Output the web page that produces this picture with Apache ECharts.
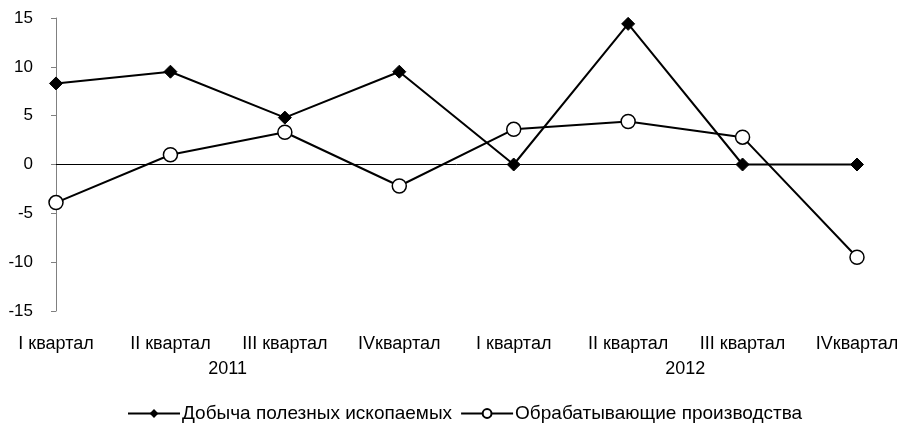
<!DOCTYPE html>
<html>
<head>
<meta charset="utf-8">
<script src="https://cdn.jsdelivr.net/npm/echarts@6/dist/echarts.min.js"></script>
<style>
html,body{margin:0;padding:0;background:#fff;}
#chart{width:902px;height:428px;}
</style>
</head>
<body>
<div id="chart"></div>
<script>
const categories = ['I квартал','II квартал','III квартал','IVквартал','I квартал','II квартал','III квартал','IVквартал'];
const years = ['2011','2012'];
const quartersPerYear = 4;
const mining = [8.3, 9.5, 4.8, 9.5, 0, 14.4, 0, 0];
const manufacturing = [-3.9, 1.0, 3.3, -2.2, 3.6, 4.4, 2.8, -9.5];
const seriesNames = ['Добыча полезных ископаемых','Обрабатывающие производства'];
const yTicks = {min: -15, max: 15, interval: 5};

// half-step slots so each year label sits at the centre of its quarters
const yearSlots = [];
for (let i = 0; i < categories.length * 2 - 1; i++) yearSlots.push('');
years.forEach((y, k) => { yearSlots[k * quartersPerYear * 2 + (quartersPerYear - 1)] = y; });

const FONT = 'Liberation Sans, Arial, sans-serif';
const chart = echarts.init(document.getElementById('chart'));
chart.setOption({
  animation: false,
  backgroundColor: '#fff',
  textStyle: {fontFamily: FONT},
  grid: {left: 56, right: 45, top: 18, bottom: 117, containLabel: false},
  xAxis: [
    {
      type: 'category', data: categories, boundaryGap: false,
      axisLine: {show: false, onZero: false}, axisTick: {show: false},
      axisLabel: {color: '#000', fontSize: 18, fontFamily: FONT, margin: 24, interval: 0}
    },
    {
      type: 'category', data: yearSlots, boundaryGap: false, position: 'bottom', offset: 41,
      axisLine: {show: false, onZero: false}, axisTick: {show: false},
      axisLabel: {color: '#000', fontSize: 18, fontFamily: FONT, margin: 8, interval: 0}
    }
  ],
  yAxis: {
    type: 'value', min: yTicks.min, max: yTicks.max, interval: yTicks.interval,
    axisLine: {show: true, lineStyle: {color: '#808080', width: 1}},
    axisTick: {show: true, length: 5, lineStyle: {color: '#808080'}},
    splitLine: {show: false},
    axisLabel: {color: '#000', fontSize: 17, fontFamily: FONT, margin: 23}
  },
  legend: {
    bottom: 0, left: 122, itemWidth: 52, itemHeight: 11, itemGap: 8,
    textStyle: {color: '#000', fontSize: 19, fontFamily: FONT, padding: [0, 0, 0, -3]},
    data: seriesNames
  },
  series: [
    {
      name: seriesNames[0], type: 'line', data: mining,
      symbol: 'diamond', symbolSize: 13,
      lineStyle: {color: '#000', width: 2},
      itemStyle: {color: '#000', borderColor: '#000'},
      markLine: {
        silent: true, symbol: ['none','none'], label: {show: false},
        lineStyle: {color: '#000', width: 1, type: 'solid'},
        data: [{yAxis: 0}]
      },
      z: 3
    },
    {
      name: seriesNames[1], type: 'line', data: manufacturing,
      symbol: 'circle', symbolSize: 14,
      lineStyle: {color: '#000', width: 2},
      itemStyle: {color: '#fff', borderColor: '#000', borderWidth: 1.5},
      z: 4
    }
  ]
});
</script>
</body>
</html>
